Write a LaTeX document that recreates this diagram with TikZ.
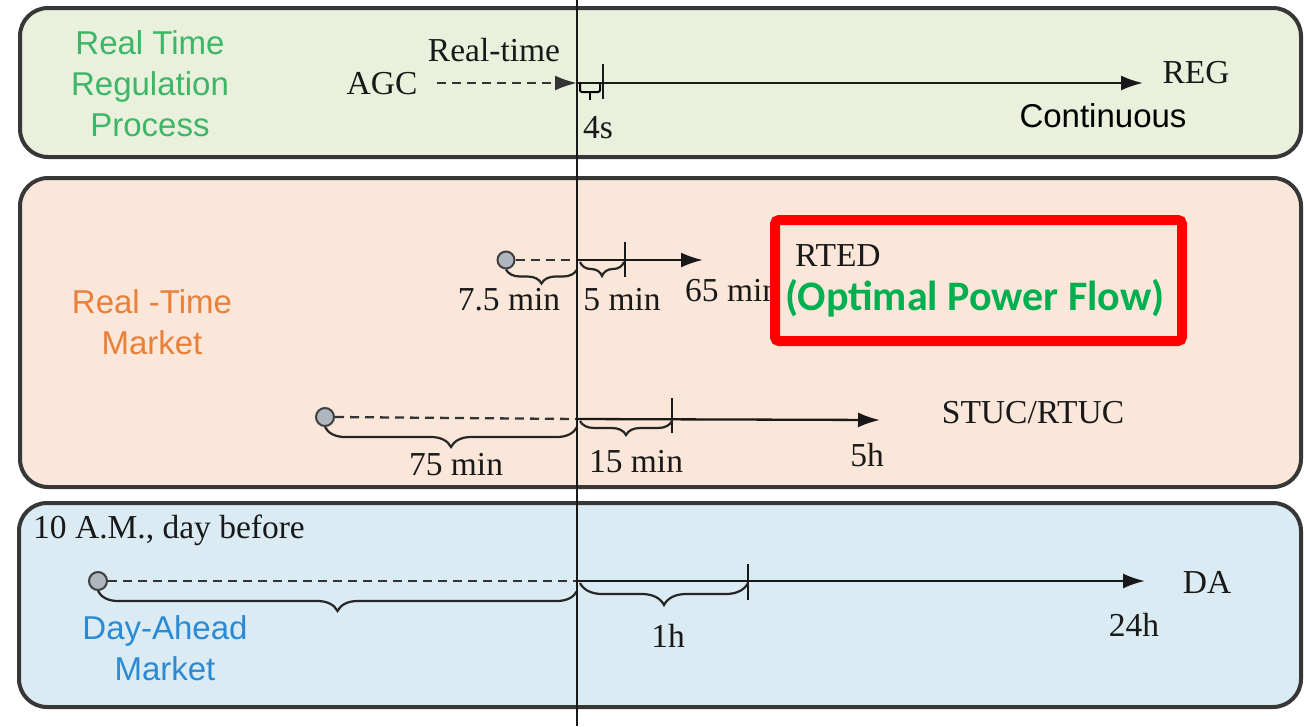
\documentclass[tikz,border=0pt]{standalone}
\usepackage{fontspec}
\setmainfont{Liberation Serif}
\newfontfamily\sansf{Liberation Sans}
\newfontfamily\calib{Carlito}
\usetikzlibrary{arrows.meta,decorations.pathreplacing}
\definecolor{pgreen}{RGB}{233,240,220}
\definecolor{porange}{RGB}{251,231,217}
\definecolor{pblue}{RGB}{218,235,243}
\definecolor{tgreen}{RGB}{62,182,104}
\definecolor{torange}{RGB}{232,128,58}
\definecolor{tblue}{RGB}{42,138,212}
\definecolor{bordergray}{RGB}{55,55,55}
\definecolor{okgreen}{RGB}{0,176,80}
\definecolor{circfill}{RGB}{175,182,192}
\tikzset{
  panel/.style={draw=bordergray, line width=4pt, rounded corners=28pt},
  lbl/.style={font=\fontsize{33.5}{38}\selectfont, inner sep=0pt, text=black!90},
  sanslbl/.style={font=\sansf\fontsize{33}{41}\selectfont, align=center, inner sep=0pt},
  dashline/.style={line width=2.3pt, dash pattern=on 9pt off 6pt, black!80},
  solidarrow/.style={line width=2.3pt, black!90, -{Latex[length=22pt,width=15pt]}},
  dasharrow/.style={dashline, -{Latex[length=22pt,width=15pt]}},
  tickline/.style={line width=2.3pt, black!90},
  bracepath/.style={line width=2.2pt, black!85, decorate, decoration={brace, mirror, amplitude=#1}},
  dot/.style={circle, draw=black!75, line width=2pt, fill=circfill, minimum size=18pt, inner sep=0pt},
}
\begin{document}
\begin{tikzpicture}[x=1pt,y=-1pt]
\useasboundingbox[fill=white] (0,0) rectangle (1304,726);

% panels
\draw[panel, fill=pgreen] (20,8) rectangle (1301,157);
\draw[panel, fill=porange] (20,178) rectangle (1301,487);
\draw[panel, fill=pblue] (19,503) rectangle (1301,707);

% ---------- Panel 1: real time regulation ----------
\node[sanslbl, text=tgreen] (rtrp) at (150,84) {Real Time\\Regulation\\Process};
\node[lbl] (agc) at (382,84) {AGC};
\node[lbl] (rtlabel) at (494,50) {Real-time};
\coordinate (p1s) at (437,83);
\coordinate (p1o) at (577,83);
\coordinate (p1e) at (1143,83);
\coordinate (p1t1) at (603,64);
\coordinate (p1t2) at (603,99);
\draw[dasharrow] (p1s) -- (p1o);
\draw[solidarrow] (p1o) -- (p1e);
\draw[tickline] (p1t1) -- (p1t2);
\coordinate (b1a) at (580,83);
\coordinate (b1b) at (600,83);
\draw[line width=2pt, rounded corners=2pt] (b1a) -- ++(0,9) -- ++(20,0) -- (b1b);
\draw[line width=2pt] (590,92) -- (590,100);
\node[lbl] (fours) at (598,128) {4s};
\node[lbl] (reg) at (1196,73) {REG};
\node[font=\sansf\fontsize{33}{38}\selectfont, inner sep=0pt] (cont) at (1103,116) {Continuous};

% ---------- Panel 2: real-time market ----------
\node[sanslbl, text=torange] (rtm) at (152,322) {Real -Time\\Market};

% RTED row
\node[dot, minimum size=17pt] (c1) at (506,260) {};
\coordinate (r1o) at (577,260);
\coordinate (r1e) at (703,260);
\draw[dashline] (c1.east) -- (r1o);
\draw[solidarrow] (r1o) -- (r1e);
\draw[tickline] (625,242) -- (625,277);
\draw[bracepath=14pt] (c1.south) -- (c1.south -| r1o);
\draw[bracepath=14pt] (580,262) -- (624,262);
\node[lbl] (l75a) at (509,300) {7.5 min};
\node[lbl] (l5) at (622,300) {5 min};
\node[lbl, anchor=west] (l65) at (685,291) {65 min};

% red box
\draw[red, line width=10pt, rounded corners=4pt, fill=porange] (775,220) rectangle (1182,341);
\node[lbl, anchor=west] (rted) at (795,256) {RTED};
\node[font=\calib\bfseries\fontsize{42}{46}\selectfont, text=okgreen, inner sep=0pt] (opf) at (975,298) {(Optimal Power Flow)};

% STUC row
\node[dot] (c2) at (325,417) {};
\coordinate (r2o) at (577,419);
\coordinate (r2e) at (880,420);
\draw[dashline] (c2.east) -- (r2o);
\draw[solidarrow] (r2o) -- (r2e);
\draw[tickline] (672,398) -- (672,433);
\draw[bracepath=20pt] (c2.south) -- (c2.south -| r2o);
\draw[bracepath=14pt] (580,421) -- (672,421);
\node[lbl] (l75) at (456,465) {75 min};
\node[lbl] (l15) at (636,462) {15 min};
\node[lbl] (l5h) at (867,455) {5h};
\node[lbl] (stuc) at (1033,413) {STUC/RTUC};

% ---------- Panel 3: day-ahead ----------
\node[lbl, anchor=west] (tenam) at (33,530) {10 A.M., day before};
\node[sanslbl, text=tblue] (dam) at (165,648) {Day-Ahead\\Market};
\node[dot] (c3) at (98,581) {};
\coordinate (r3o) at (577,581);
\coordinate (r3e) at (1145,581);
\draw[dashline] (c3.east) -- (r3o);
\draw[solidarrow] (r3o) -- (r3e);
\draw[tickline] (748,564) -- (748,600);
\draw[bracepath=20pt] (c3.south) -- (c3.south -| r3o);
\draw[bracepath=22pt] (580,583) -- (748,583);
\node[lbl] (l1h) at (668,636) {1h};
\node[lbl] (l24h) at (1134,625) {24h};
\node[lbl] (da) at (1207,582) {DA};

% vertical now line
\coordinate (vtop) at (577,0);
\coordinate (vbot) at (577,726);
\draw[line width=2.4pt, black!90] (vtop) -- (vbot);
\end{tikzpicture}
\end{document}
